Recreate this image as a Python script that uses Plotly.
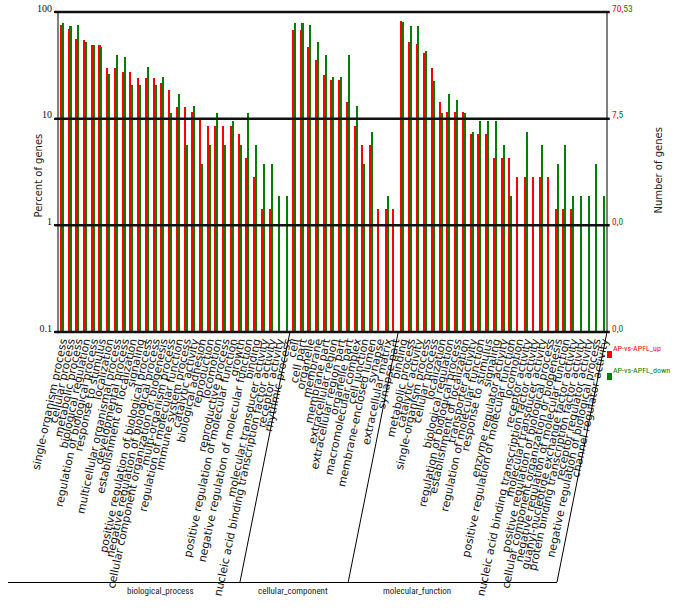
import plotly.graph_objects as go

# ---------------- data ----------------
bp_terms = ["single-organism process", "cellular process", "metabolic process", "biological regulation",
            "regulation of biological process", "response to stimulus", "localization",
            "multicellular organismal process", "developmental process", "establishment of localization",
            "signaling", "positive regulation of biological process", "negative regulation of biological process",
            "cellular component organization or biogenesis", "multi-organism process",
            "regulation of molecular function", "immune system process", "catalytic activity",
            "biological adhesion", "reproduction", "locomotion", "reproductive process",
            "positive regulation of molecular function", "growth", "negative regulation of molecular function",
            "binding", "molecular transducer activity", "nucleic acid binding transcription factor activity",
            "receptor activity", "rhythmic process"]
cc_terms = ["cell", "cell part", "organelle", "membrane", "membrane part", "extracellular region",
            "extracellular region part", "organelle part", "macromolecular complex", "cell junction",
            "membrane-enclosed lumen", "synapse", "extracellular matrix", "synapse part"]
mf_terms = ["binding", "metabolic process", "catalytic activity", "single-organism process", "cellular process",
            "localization", "biological regulation", "regulation of biological process",
            "establishment of localization", "transporter activity", "regulation of molecular function",
            "response to stimulus", "signaling", "enzyme regulator activity",
            "positive regulation of molecular function", "locomotion", "receptor activity",
            "nucleic acid binding transcription factor activity", "molecular transducer activity",
            "positive regulation of biological process", "cellular component organization or biogenesis",
            "negative regulation of molecular function", "guanyl-nucleotide exchange factor activity",
            "protein binding transcription factor activity", "receptor regulator activity",
            "negative regulation of biological process", "channel regulator activity"]

# percent of genes (up: 70 genes total, down: 53 genes total)
bp_up = [75.71, 70.0, 55.71, 54.29, 48.57, 48.57, 30.0, 30.0, 27.14, 27.14, 24.29, 24.29, 24.29, 21.43,
         18.57, 12.86, 12.86, 11.43, 10.0, 8.57, 8.57, 8.57, 8.57, 7.14, 4.29, 2.86, 1.43, 1.43, None, None]
bp_down = [79.25, 73.58, 75.47, 52.83, 49.06, 47.17, 26.42, 39.62, 37.74, 20.75, 20.75, 30.19, 20.75, 24.53,
           11.32, 16.98, 5.66, 13.21, 3.77, 5.66, 11.32, 5.66, 9.43, 5.66, 11.32, 5.66, 3.77, 3.77, 1.89, 1.89]
cc_up = [67.14, 67.14, 47.14, 35.71, 25.71, 22.86, 22.86, 14.29, 8.57, 5.71, 5.71, 1.43, 1.43, 1.43]
cc_down = [79.25, 79.25, 75.47, 52.83, 39.62, 24.53, 24.53, 39.62, 13.21, 3.77, 7.55, None, 1.89, None]
mf_up = [82.86, 52.86, 50.0, 41.43, 30.0, 14.29, 11.43, 11.43, 11.43, 7.14, 7.14, 7.14, 4.29, 4.29, 4.29,
         2.86, 2.86, 2.86, 2.86, 2.86, 1.43, 1.43, 1.43, None, None, None, None]
mf_down = [81.13, 73.58, 73.58, 43.40, 22.64, 11.32, 16.98, 15.09, 11.32, 7.55, 9.43, 9.43, 9.43, 5.66, 1.89,
           None, 7.55, None, 5.66, None, 3.77, 5.66, 1.89, 1.89, 1.89, 3.77, 1.89]

groups = ["biological_process", "cellular_component", "molecular_function"]
series_names = ["AP-vs-APFL_up", "AP-vs-APFL_down"]
left_ticks = [0.1, 1, 10, 100]
left_ticktext = ["0.1", "1", "10", "100"]
right_ticktext = [("0", "0"), ("0", "0"), ("7", "5"), ("70", "53")]

RED = "#ff0000"
GREEN = "#008000"

terms = bp_terms + cc_terms + mf_terms
up = bp_up + cc_up + mf_up
down = bp_down + cc_down + mf_down
xs = list(range(len(terms)))
n = len(terms)

fig = go.Figure()
fig.add_trace(go.Bar(x=xs, y=up, name=series_names[0], marker=dict(color=RED, line=dict(width=0)),
                     width=0.2, offset=-0.2, showlegend=False))
fig.add_trace(go.Bar(x=xs, y=down, name=series_names[1], marker=dict(color=GREEN, line=dict(width=0)),
                     width=0.2, offset=0.05, showlegend=False))

L, R, T, B = 58, 68, 12, 282
W, H = 675, 614
PW = W - L - R
PH = H - T - B

def px(xpix):
    return (xpix - L) / PW

def py(ypix):
    return (H - B - ypix) / PH

shapes = []
for yy in [0, 1/3, 2/3, 1]:
    shapes.append(dict(type="line", xref="paper", yref="paper", x0=-0.006, x1=1.005, y0=yy, y1=yy,
                       line=dict(color="#111111", width=2.5), layer="above"))
for xx in [0, 1]:
    shapes.append(dict(type="line", xref="paper", yref="paper", x0=xx, x1=xx, y0=0, y1=1,
                       line=dict(color="black", width=1), layer="above"))
bounds = [-0.5, len(bp_terms) - 0.5, len(bp_terms) + len(cc_terms) - 0.5, n - 0.5]
for b in bounds:
    shapes.append(dict(type="line", xref="x", xsizemode="pixel", xanchor=b, x0=0, x1=-50,
                       yref="paper", ysizemode="pixel", yanchor=0, y0=0, y1=-250,
                       line=dict(color="black", width=1)))
shapes.append(dict(type="line", xref="paper", yref="paper", x0=px(8), x1=px(557), y0=py(582.5), y1=py(582.5),
                   line=dict(color="black", width=1)))
shapes.append(dict(type="rect", xref="paper", yref="paper", x0=px(607), x1=px(612), y0=py(358), y1=py(351),
                   fillcolor=RED, line=dict(width=0)))
shapes.append(dict(type="rect", xref="paper", yref="paper", x0=px(607), x1=px(612), y0=py(380), y1=py(373),
                   fillcolor=GREEN, line=dict(width=0)))

NARROW = "Roboto Condensed, Liberation Sans Narrow, DejaVu Sans Condensed, Liberation Sans, sans-serif"
annotations = []
for yy, (a, b) in zip([0, 1/3, 2/3, 1], right_ticktext):
    annotations.append(dict(xref="paper", yref="paper", x=px(610), y=yy, yshift=4, xanchor="left",
                            yanchor="middle", showarrow=False,
                            text=f"<span style='color:{RED}'>{a},</span><span style='color:{GREEN}'>{b}</span>",
                            font=dict(family=NARROW, size=9.5)))
annotations.append(dict(xref="paper", yref="paper", x=px(30), y=py(176), textangle=-90, showarrow=False,
                        text="Percent of genes", font=dict(family="DejaVu Sans", size=10, color="#222")))
annotations.append(dict(xref="paper", yref="paper", x=px(665), y=py(171), textangle=-90, showarrow=False,
                        text="Number of genes", font=dict(family="DejaVu Sans", size=10, color="#222")))
for g, gx in zip(groups, [125, 293, 453]):
    annotations.append(dict(xref="paper", yref="paper", x=px(gx), y=py(598), showarrow=False,
                            text=g, font=dict(family=NARROW, size=9, color="#222")))
annotations.append(dict(xref="paper", yref="paper", x=px(611), y=py(355), xanchor="left", showarrow=False,
                        text=series_names[0], font=dict(family=NARROW, size=8, color=RED)))
annotations.append(dict(xref="paper", yref="paper", x=px(611), y=py(377), xanchor="left", showarrow=False,
                        text=series_names[1], font=dict(family=NARROW, size=8, color=GREEN)))

fig.update_layout(
    width=W, height=H,
    margin=dict(l=L, r=R, t=T, b=B, autoexpand=False),
    paper_bgcolor="white", plot_bgcolor="white",
    barmode="overlay", bargap=0,
    shapes=shapes, annotations=annotations,
    showlegend=False,
)
fig.update_xaxes(range=[-0.5, n - 0.5], tickmode="array", tickvals=xs, ticktext=terms, tickangle=-78,
                 tickfont=dict(family="DejaVu Sans", size=11, color="#111"), showgrid=False, zeroline=False,
                 showline=False, ticks="", automargin=False, fixedrange=True)
fig.update_yaxes(type="log", range=[-1, 2], tickmode="array", tickvals=left_ticks, ticktext=left_ticktext,
                 tickfont=dict(family="Liberation Serif", size=10, color="#111"), showgrid=False,
                 zeroline=False, showline=False, ticks="outside", ticklen=3, tickwidth=2, tickcolor="#111",
                 ticklabelshift=-4, automargin=False, fixedrange=True)

fig.write_html("out.html", config={"displayModeBar": False},
               post_script="document.body.style.margin='0px';document.body.style.padding='0px';")
